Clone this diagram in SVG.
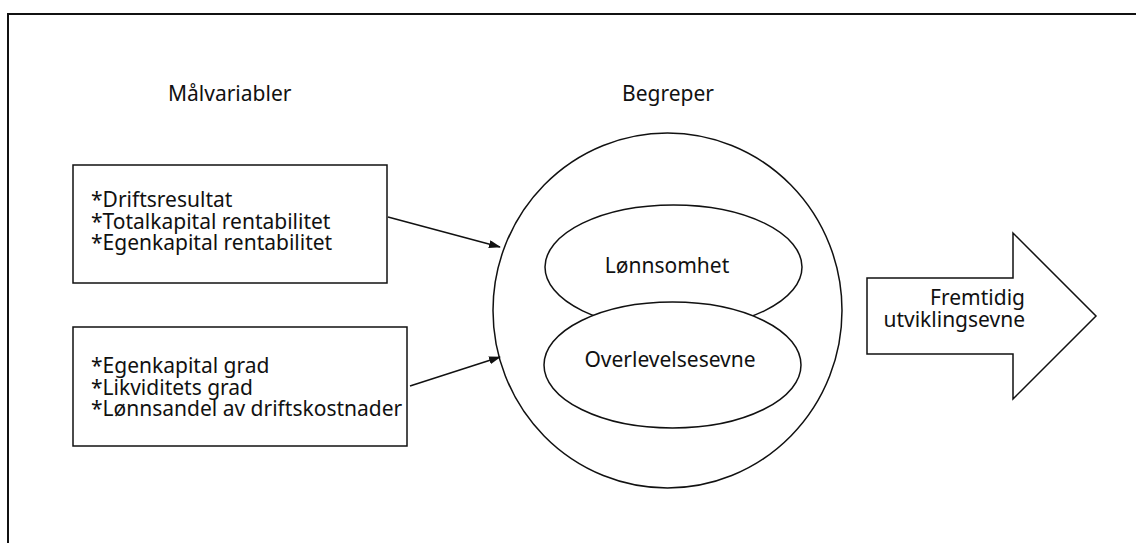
<svg xmlns="http://www.w3.org/2000/svg" width="1136" height="543" viewBox="0 0 1136 543">
<defs>
<style>
text{font-family:"Noto Sans","Open Sans","DejaVu Sans",sans-serif;font-size:21px;fill:#111}
.s{fill:#fff;stroke:#111;stroke-width:1.5}
.c{stroke:#111;stroke-width:1.5;fill:none}
</style>
<marker id="ah" markerWidth="12" markerHeight="8" refX="11" refY="4" orient="auto" markerUnits="userSpaceOnUse">
<path d="M0,0 L12,4 L0,8 Z" fill="#111"/>
</marker>
</defs>
<rect width="1136" height="543" fill="#fff"/>
<g id="frame"><path d="M8,543 V14 H1136" fill="none" stroke="#111" stroke-width="2"/></g>
<g id="label-malvariabler"><text x="168" y="101">Målvariabler</text></g>
<g id="label-begreper"><text x="622" y="101">Begreper</text></g>
<g id="box1">
<rect class="s" x="73" y="165" width="314" height="118"/>
<text x="91" y="207">*Driftsresultat</text>
<text x="91" y="228.5">*Totalkapital rentabilitet</text>
<text x="91" y="250">*Egenkapital rentabilitet</text>
</g>
<g id="box2">
<rect class="s" x="73" y="327" width="334" height="119"/>
<text x="91" y="373">*Egenkapital grad</text>
<text x="91" y="394.5">*Likviditets grad</text>
<text x="91" y="416">*Lønnsandel av driftskostnader</text>
</g>
<g id="circle">
<ellipse class="s" cx="667.5" cy="310.5" rx="174.5" ry="177.5"/>
</g>
<g id="lonnsomhet">
<ellipse class="s" cx="673.5" cy="267" rx="128.5" ry="62"/>
<text x="667" y="273" text-anchor="middle">Lønnsomhet</text>
</g>
<g id="overlevelsesevne">
<ellipse class="s" cx="672.5" cy="365" rx="128.5" ry="63"/>
<text x="670" y="367" text-anchor="middle">Overlevelsesevne</text>
</g>
<g id="fremtidig">
<path class="s" d="M867,278 H1013 V233 L1096,316 L1013,399 V354 H867 Z"/>
<text x="1025" y="305" text-anchor="end">Fremtidig</text>
<text x="1025" y="327" text-anchor="end">utviklingsevne</text>
</g>
<g id="connectors">
<line class="c" x1="388" y1="217" x2="500" y2="247" marker-end="url(#ah)"/>
<line class="c" x1="410" y1="386" x2="500" y2="357" marker-end="url(#ah)"/>
</g>
</svg>
